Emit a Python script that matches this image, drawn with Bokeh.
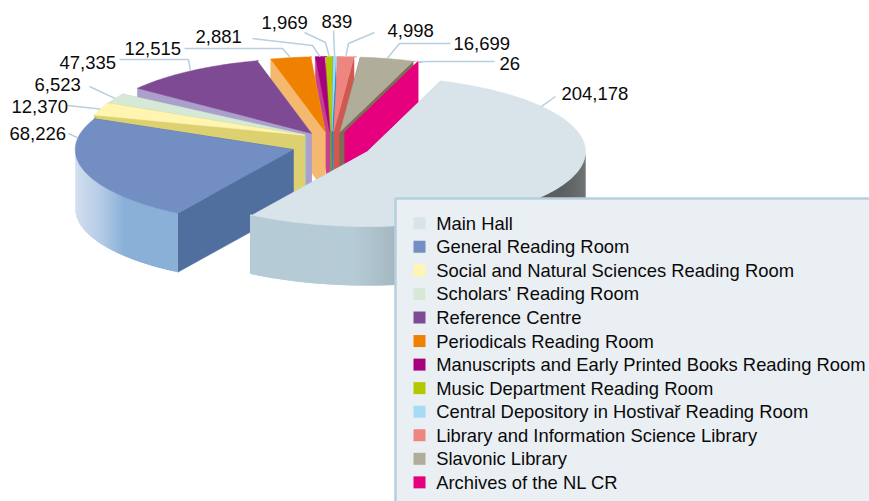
import numpy as np
from bokeh.core.properties import value
from bokeh.embed import file_html
from bokeh.models import ColumnDataSource, Range1d
from bokeh.plotting import figure
from bokeh.resources import INLINE

categories = ["Main Hall", "General Reading Room", "Social and Natural Sciences Reading Room",
              "Scholars' Reading Room", "Reference Centre", "Periodicals Reading Room",
              "Manuscripts and Early Printed Books Reading Room", "Music Department Reading Room",
              "Central Depository in Hostivař Reading Room", "Library and Information Science Library",
              "Slavonic Library", "Archives of the NL CR"]
visits = [204178, 68226, 12370, 6523, 47335, 12515, 2881, 1969, 839, 4998, 16699, 26]
top_colors = ["#D9E3EA", "#728EC2", "#FFF5B1", "#D6E9D6", "#7E4A93", "#F08000",
              "#A6007E", "#B2C800", "#A5DBF5", "#EE8580", "#B0AD9A", "#E6007E"]
wall_colors = ["#B5CBD6", "#506F9F", "#DDD071", "#ABD3A9", "#AB9FCC", "#F4B86E",
               "#C84090", "#8FA000", "#0095DB", "#D05850", "#7B6E55", "#E6007E"]

# layout of the 3D projection, in page pixels
CX, CY, RX, RY, DEPTH, EXPLODE_X, EXPLODE_Y = 331, 145, 218, 75, 59, 40, 14
START_ANGLE = 70.4
# the pictured pie is drawn in perspective: deviation of the shown angle from the true one
WARP_TRUE = [0, 194.17, 259.05, 270.81, 277.01, 322.0, 360]
WARP_SHIFT = [0, -1.8, 7, 5, 6.4, 3.9, 0]
END_NUDGE = {1: 8.6}     # General Reading Room's rim runs on behind its neighbour
START_NUDGE = {4: 4.0}   # a small gap before Reference Centre
EXPLODE_DIR = {2: 133, 3: 131, 4: 120}  # these slices slide out towards the back
# outer wall shading by page x
WALL_STOPS = {
    0: ([251, 350, 394, 480, 525, 560, 585], ["#B5CBD6", "#B5CBD6", "#A5B8C1", "#80898D", "#5A5D5D", "#5C5F5F", "#6F7272"]),
    1: ([75, 100, 122, 178], ["#D2DEEF", "#B4CBE5", "#8AB0D8", "#8AB0D8"]),
}
LABEL_X = [561, 9, 11, 34, 59, 124, 195, 261, 321, 387, 453, 499]
LABEL_Y = [93, 133, 106, 84, 62, 48, 36, 22, 21, 30, 43, 63]
# leader lines start at the label; the last point is found from the slice's rim
LEADERS = [[(555, 96)], [(68, 133)], [(67, 105)], [(89, 86)], [(119, 59), (188, 59)],
           [(184, 48), (282, 48)], [(252, 38), (312, 45)], [(304, 32), (325, 42)],
           [(333, 30)], [(374, 32), (348, 43)], [(450, 43), (399, 43)], [(494, 61), (430, 61)]]
LEADER_ANGLE = {0: 37, 1: 171}  # slices whose middle is hidden: anchor on the visible rim


def hex2rgb(c):
    return np.array([int(c[i:i + 2], 16) for i in (1, 3, 5)], float)


def shade(x, xs, cols):
    rgb = [np.interp(x, xs, [hex2rgb(c)[k] for c in cols]) for k in range(3)]
    return "#%02X%02X%02X" % tuple(int(round(v)) for v in rgb)


def shown(cum):
    return cum + np.interp(cum, WARP_TRUE, WARP_SHIFT)


total = sum(visits)
cums = np.cumsum([0] + visits) * 360.0 / total
edges = START_ANGLE - shown(cums)  # math angle, going clockwise on the page
starts = [edges[i] - START_NUDGE.get(i, 0) for i in range(len(visits))]
ends = [edges[i + 1] - END_NUDGE.get(i, 0) for i in range(len(visits))]


def rim(apex, t):
    r = np.radians(t)
    return apex[0] + RX * np.cos(r), apex[1] - RY * np.sin(r)


xs, ys, fills, widths = [], [], [], []


def add(px, py, c, w=0.5):
    xs.append(list(px))
    ys.append(list(py))
    fills.append(c)
    widths.append(w)


mids = [(a + b) / 2 for a, b in zip(starts, ends)]
dirs = [EXPLODE_DIR.get(i, m) for i, m in enumerate(mids)]
apexes = [(CX + EXPLODE_X * np.cos(np.radians(m)), CY - EXPLODE_Y * np.sin(np.radians(m))) for m in dirs]
dist = [abs((m - 90 + 180) % 360 - 180) for m in mids]

for i in np.argsort(dist):
    t1, t2 = starts[i], ends[i]
    apex = apexes[i]
    # radial walls
    for t in (t1, t2):
        x, y = rim(apex, t)
        add([apex[0], x, x, apex[0]], [apex[1], y, y + DEPTH, apex[1] + DEPTH], wall_colors[i])
    # outer wall on the near half: strips overlap so that no seams show
    ts = np.arange(t1, t2 - 1.0, -1.0).tolist() + [t2]
    for j in range(len(ts) - 1):
        a, b = ts[j], ts[j + 1]
        if np.sin(np.radians((a + b) / 2)) < 0:
            c = ts[min(j + 2, len(ts) - 1)]
            xa, ya = rim(apex, a)
            xb, yb = rim(apex, c)
            if i in WALL_STOPS:
                col = shade((xa + xb) / 2, *WALL_STOPS[i])
            else:
                col = wall_colors[i]
            add([xa, xb, xb, xa], [ya, yb, yb + DEPTH, ya + DEPTH], col, 0)
    # top
    pts = [rim(apex, t) for t in ts]
    add([apex[0]] + [q[0] for q in pts], [apex[1]] + [q[1] for q in pts], top_colors[i])

p = figure(width=869, height=501, output_backend="svg", toolbar_location=None,
           x_range=Range1d(0, 869), y_range=Range1d(501, 0), min_border=0,
           outline_line_color=None, background_fill_color="white", border_fill_color="white")
p.axis.visible = False
p.grid.visible = False

p.patches("xs", "ys", source=ColumnDataSource(dict(xs=xs, ys=ys, fill=fills, w=widths)),
          fill_color="fill", line_color="fill", line_width="w")

# leaders
lx, ly = [], []
for i, pts in enumerate(LEADERS):
    x, y = rim(apexes[i], LEADER_ANGLE.get(i, mids[i]))
    lx.append([q[0] for q in pts] + [x])
    ly.append([q[1] for q in pts] + [y])
p.multi_line(lx, ly, line_color="#B7CFDE", line_width=1.5)

p.text(LABEL_X, LABEL_Y, text=[f"{v:,}" for v in visits], text_font=value("Liberation Sans"),
       text_font_size="18.5px", text_color="#0A0A0A", text_align="left", text_baseline="middle")

# legend panel
p.quad(left=[395], right=[900], top=[198], bottom=[600], fill_color="#EAEFF4",
       line_color="#B6CFDE", line_width=2.5)
row_y = [222.8 + 23.55 * i for i in range(len(categories))]
p.scatter([419] * len(categories), row_y, marker="square", size=12, fill_color=top_colors, line_color=None)
p.text([435.7] * len(categories), row_y, text=categories, text_font=value("Liberation Sans"),
       text_font_size="18.4px", text_color="#0A0A0A", text_align="left", text_baseline="middle")

open("out.html", "w").write(file_html(p, INLINE))
